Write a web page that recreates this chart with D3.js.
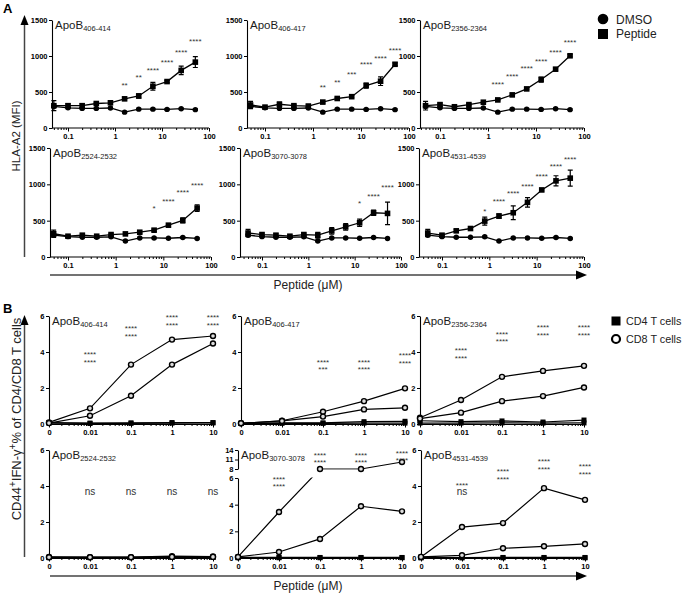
<!DOCTYPE html>
<html>
<head>
<meta charset="utf-8">
<script src="https://cdn.jsdelivr.net/npm/d3@7"></script>
<style>
  body { margin: 0; background: #fff; }
  svg { font-family: "Liberation Sans", Arial, sans-serif; }
</style>
</head>
<body>
<svg id="fig" width="685" height="593"></svg>
<script>
// ---- panel A data: HLA-A2 MFI vs peptide concentration ----
const concA = [0.05, 0.1, 0.2, 0.4, 0.8, 1.6, 3.2, 6.4, 12.8, 25.6, 51.2];
const titles = ["406-414", "406-417", "2356-2364", "2524-2532", "3070-3078", "4531-4539"];
const dmso = [300, 280, 272, 272, 278, 220, 262, 262, 258, 268, 255];
const dmsoErr = [15, 10, 10, 10, 10, 10, 10, 10, 10, 10, 10];
const peptideA = [
  [310, 310, 310, 340, 350, 405, 445, 580, 645, 800, 915],
  [320, 290, 330, 310, 305, 360, 410, 435, 590, 650, 885],
  [310, 325, 295, 325, 358, 390, 460, 543, 673, 817, 1003],
  [320, 286, 300, 286, 309, 318, 341, 369, 438, 503, 674],
  [330, 309, 300, 286, 309, 300, 360, 415, 471, 609, 600],
  [330, 300, 360, 392, 494, 563, 609, 752, 923, 1048, 1085]
];
const peptideErrA = [
  [70, 25, 25, 15, 10, 10, 30, 55, 15, 60, 75],
  [50, 15, 30, 15, 15, 15, 15, 15, 35, 60, 20],
  [60, 20, 15, 15, 10, 10, 10, 10, 35, 15, 15],
  [50, 15, 15, 10, 10, 10, 15, 15, 15, 35, 45],
  [50, 20, 20, 15, 20, 40, 45, 45, 50, 35, 155],
  [50, 20, 15, 25, 55, 30, 95, 65, 15, 70, 110]
];
// [index, label, MFI height]
const starsA = [
  [[5, "**", 618], [6, "**", 734], [7, "****", 827], [8, "****", 943], [9, "****", 1082], [10, "****", 1231]],
  [[5, "**", 594], [6, "**", 664], [7, "***", 766], [8, "****", 906], [9, "****", 999], [10, "****", 1101]],
  [[5, "****", 627], [6, "****", 748], [7, "****", 850], [8, "****", 952], [9, "****", 1082], [10, "****", 1212]],
  [[7, "*", 701], [8, "****", 785], [9, "****", 914], [10, "****", 1015]],
  [[8, "*", 761], [9, "****", 863], [10, "****", 978]],
  [[4, "*", 660], [5, "****", 785], [6, "****", 900], [7, "****", 1001], [8, "****", 1140], [9, "****", 1278], [10, "****", 1370]]
];
const ticksAY = [0, 500, 1000, 1500];
const ticksAX = [0.1, 1, 10, 100];

// ---- panel B data: CD44+IFN-g+ % ----
const concB = [0, 0.01, 0.1, 1, 10];
const cd8a = [
  [0.09, 0.87, 3.30, 4.69, 4.89],
  [0.04, 0.18, 0.68, 1.27, 1.98],
  [0.35, 1.33, 2.62, 2.95, 3.23],
  [0.06, 0.05, 0.05, 0.10, 0.08],
  [0.08, 3.45, 8.0, 8.0, 10.2],
  [0.06, 1.72, 1.94, 3.88, 3.23]
];
const cd8b = [
  [0.05, 0.46, 1.57, 3.30, 4.47],
  [0.04, 0.17, 0.41, 0.81, 0.90],
  [0.30, 0.63, 1.27, 1.55, 2.03],
  [0.04, 0.04, 0.04, 0.06, 0.06],
  [0.08, 0.45, 1.43, 3.88, 3.50],
  [0.06, 0.15, 0.54, 0.65, 0.78]
];
const cd4a = [
  [0.08, 0.05, 0.06, 0.08, 0.08],
  [0.04, 0.07, 0.06, 0.13, 0.15],
  [0.18, 0.13, 0.17, 0.11, 0.22],
  [0.03, 0.03, 0.03, 0.04, 0.04],
  [0.04, 0.04, 0.04, 0.04, 0.04],
  [0.02, 0.02, 0.03, 0.03, 0.03]
];
const cd4b = [
  [0.05, 0.03, 0.04, 0.05, 0.06],
  [0.03, 0.04, 0.04, 0.05, 0.05],
  [0.05, 0.05, 0.06, 0.05, 0.06],
  [0.02, 0.02, 0.02, 0.03, 0.03],
  [0.02, 0.02, 0.02, 0.02, 0.02],
  [0.01, 0.01, 0.01, 0.01, 0.01]
];
// [index, upper label, lower label, upper value, lower value]
const starsB = [
  [[1, "****", "****", 3.97, 3.54], [2, "****", "****", 5.39, 4.97], [3, "****", "****", 6.04, 5.61], [4, "****", "****", 6.04, 5.61]],
  [[2, "****", "***", 3.54, 3.12], [3, "****", "****", 3.54, 3.12], [4, "****", "****", 3.91, 3.49]],
  [[1, "****", "****", 4.19, 3.77], [2, "****", "****", 5.11, 4.71], [3, "****", "****", 5.48, 5.02], [4, "****", "****", 5.48, 5.02]],
  [[1, "ns", null, 3.66, null], [2, "ns", null, 3.66, null], [3, "ns", null, 3.66, null], [4, "ns", null, 3.66, null]],
  [[1, "****", "****", 6.1, 5.55], [2, "****", "****", 12.9, 10.7], [3, "****", "****", 12.9, 10.7], [4, "****", "****", 13.6, 11.4]],
  [[1, "****", "ns", 4.12, 3.69], [2, "****", "****", 4.89, 4.47], [3, "****", "****", 5.45, 5.04], [4, "****", "****", 5.17, 4.76]]
];
const ticksBY = [0, 2, 4, 6];
const ticksBYBreak = [8, 11, 14];
const ticksBX = [0, 0.01, 0.1, 1, 10];

// ---- layout ----
const layoutA = [
  { left: 52, x01: 68, x100: 209, top: 20, bottom: 128 },
  { left: 247, x01: 265, x100: 409, top: 20, bottom: 128 },
  { left: 420, x01: 440, x100: 584, top: 20, bottom: 128 },
  { left: 50, x01: 68, x100: 211, top: 148, bottom: 257 },
  { left: 240, x01: 262, x100: 401, top: 148, bottom: 257 },
  { left: 419, x01: 442, x100: 584, top: 148, bottom: 257 }
];
const layoutB = [
  { left: 49, top: 316, bottom: 424 },
  { left: 241, top: 316, bottom: 424 },
  { left: 420, top: 316, bottom: 424 },
  { left: 49, top: 450, bottom: 558 },
  { left: 238, top: 450, bottom: 558, brk: true },
  { left: 421, top: 450, bottom: 558 }
];

const svg = d3.select("#fig");
const plain = d => String(d);

function styleAxis(g) {
  g.select(".domain").attr("stroke", "#000").attr("stroke-width", 1.1);
  g.selectAll(".tick line").attr("stroke", "#000").attr("stroke-width", 1);
  g.selectAll(".tick text").attr("font-size", 7.5).attr("font-weight", "bold")
    .attr("fill", "#000").attr("font-family", "Liberation Sans, Arial, sans-serif");
}

function minorTicks(lo, hi) {
  let out = [];
  for (let e = -4; e <= 2; e++) {
    for (let m = 2; m <= 9; m++) {
      let v = m * Math.pow(10, e);
      if (v > lo && v < hi) out.push(v);
    }
  }
  return out;
}

function title(g, x, y, sub) {
  let t = g.append("text").attr("x", x).attr("y", y).attr("font-size", 11.5).attr("fill", "#1a1a1a");
  t.append("tspan").text("ApoB");
  t.append("tspan").attr("font-size", 7.5).attr("dy", 1.5).text(sub);
}

// ---- panel A plots ----
layoutA.forEach((L, i) => {
  let x = d3.scaleLog().domain([0.1, 100]).range([L.x01, L.x100]);
  let y = d3.scaleLinear().domain([0, 1500]).range([L.bottom, L.top]);
  let lo = x.invert(L.left);
  let g = svg.append("g");

  g.append("g").attr("transform", `translate(0,${L.bottom})`)
    .call(d3.axisBottom(x).tickValues(minorTicks(lo, 100)).tickSize(2).tickFormat(""))
    .call(a => a.select(".domain").remove())
    .call(styleAxis);
  g.append("g").attr("transform", `translate(0,${L.bottom})`)
    .call(d3.axisBottom(x).tickValues(ticksAX).tickSize(3.5).tickSizeOuter(0).tickPadding(2).tickFormat(plain))
    .call(a => a.select(".domain").attr("d", `M${L.left},0H${x(100)}`))
    .call(styleAxis);
  g.append("g").attr("transform", `translate(${L.left},0)`)
    .call(d3.axisLeft(y).tickValues(ticksAY).tickSize(3).tickSizeOuter(0).tickPadding(1.5).tickFormat(plain))
    .call(styleAxis);

  title(g, L.left + 3, L.top + 9, titles[i]);

  let line = d3.line().x((d, k) => x(concA[k])).y(d => y(d));
  [dmso, peptideA[i]].forEach(s => {
    g.append("path").datum(s).attr("d", line).attr("fill", "none").attr("stroke", "#000").attr("stroke-width", 1.3);
  });

  // error bars
  [[peptideA[i], peptideErrA[i]], [dmso, dmsoErr]].forEach(([m, e]) => {
    m.forEach((v, k) => {
      let cx = x(concA[k]);
      g.append("path")
        .attr("d", `M${cx},${y(v - e[k])}V${y(v + e[k])}M${cx - 2.5},${y(v - e[k])}h5M${cx - 2.5},${y(v + e[k])}h5`)
        .attr("stroke", "#000").attr("stroke-width", 1.2).attr("fill", "none");
    });
  });

  g.selectAll(".dm").data(dmso).enter().append("circle")
    .attr("cx", (d, k) => x(concA[k])).attr("cy", d => y(d)).attr("r", 2.7).attr("fill", "#000");
  g.selectAll(".pp").data(peptideA[i]).enter().append("rect")
    .attr("x", (d, k) => x(concA[k]) - 2.8).attr("y", d => y(d) - 2.8)
    .attr("width", 5.6).attr("height", 5.6).attr("fill", "#000");

  g.selectAll(".st").data(starsA[i]).enter().append("text")
    .attr("x", d => x(concA[d[0]])).attr("y", d => y(d[2]) + 4.5)
    .attr("text-anchor", "middle").attr("font-size", 8).attr("fill", "#333")
    .text(d => d[1]);
});

// ---- panel B plots ----
layoutB.forEach((L, i) => {
  let x = d3.scaleLog().domain([0.001, 10]).range([L.left, L.left + 164]);
  let xv = c => x(c === 0 ? 0.001 : c);
  let y = L.brk
    ? d3.scaleLinear().domain([0, 6, 8, 14]).range([L.bottom, L.bottom - 80, L.bottom - 89, L.top])
    : d3.scaleLinear().domain([0, 6]).range([L.bottom, L.top]);
  let g = svg.append("g");

  g.append("g").attr("transform", `translate(0,${L.bottom})`)
    .call(d3.axisBottom(x).tickValues(minorTicks(0.001, 10)).tickSize(2).tickFormat(""))
    .call(a => a.select(".domain").remove())
    .call(styleAxis);
  g.append("g").attr("transform", `translate(0,${L.bottom})`)
    .call(d3.axisBottom(x).tickValues(ticksBX.map(c => c === 0 ? 0.001 : c)).tickSize(3.5).tickSizeOuter(0).tickPadding(2)
      .tickFormat((d, k) => plain(ticksBX[k])))
    .call(styleAxis);

  if (L.brk) {
    let yLo = d3.scaleLinear().domain([0, 6]).range([L.bottom, L.bottom - 80]);
    let yHi = d3.scaleLinear().domain([8, 14]).range([L.bottom - 89, L.top]);
    g.append("g").attr("transform", `translate(${L.left},0)`)
      .call(d3.axisLeft(yLo).tickValues(ticksBY).tickSize(3).tickSizeOuter(0).tickPadding(1.5).tickFormat(plain)).call(styleAxis);
    g.append("g").attr("transform", `translate(${L.left},0)`)
      .call(d3.axisLeft(yHi).tickValues(ticksBYBreak).tickSize(3).tickSizeOuter(0).tickPadding(1.5).tickFormat(plain)).call(styleAxis);
  } else {
    g.append("g").attr("transform", `translate(${L.left},0)`)
      .call(d3.axisLeft(y).tickValues(ticksBY).tickSize(3).tickSizeOuter(0).tickPadding(1.5).tickFormat(plain)).call(styleAxis);
  }

  title(g, L.left + 3, L.top + 9, titles[i]);

  let line = d3.line().x((d, k) => xv(concB[k])).y(d => y(d));
  let lines = g.append("g");
  if (L.brk) {
    let cid = "clipB" + i;
    let cp = svg.append("clipPath").attr("id", cid);
    cp.append("rect").attr("x", L.left - 10).attr("y", L.top - 10).attr("width", 200).attr("height", y(8) + 0.8 - L.top + 10);
    cp.append("rect").attr("x", L.left - 10).attr("y", y(6) - 0.5).attr("width", 200).attr("height", L.bottom - y(6) + 10);
    lines.attr("clip-path", `url(#${cid})`);
  }
  [cd4a[i], cd4b[i], cd8a[i], cd8b[i]].forEach(s => {
    lines.append("path").datum(s).attr("d", line).attr("fill", "none").attr("stroke", "#000").attr("stroke-width", 1.2);
  });

  [cd4a[i], cd4b[i]].forEach(s => {
    g.selectAll(null).data(s).enter().append("rect")
      .attr("x", (d, k) => xv(concB[k]) - 2.5).attr("y", d => y(d) - 2.5)
      .attr("width", 5).attr("height", 5).attr("fill", "#000");
  });
  [cd8a[i], cd8b[i]].forEach(s => {
    g.selectAll(null).data(s).enter().append("circle")
      .attr("cx", (d, k) => xv(concB[k])).attr("cy", d => y(d)).attr("r", 2.5)
      .attr("fill", "#ddd").attr("stroke", "#000").attr("stroke-width", 1.4);
  });

  starsB[i].forEach(s => {
    [[s[1], s[3]], [s[2], s[4]]].forEach(([lab, v]) => {
      if (!lab) return;
      let ns = lab === "ns";
      g.append("text").attr("x", xv(concB[s[0]])).attr("y", y(v) + (ns ? 3 : 4.5))
        .attr("text-anchor", "middle").attr("font-size", ns ? 10 : 8).attr("fill", "#333").text(lab);
    });
  });
});

// ---- frame arrows, labels, legends ----
function arrowV(x, y1, y2) {
  svg.append("line").attr("x1", x).attr("x2", x).attr("y1", y1).attr("y2", y2 + 8)
    .attr("stroke", "#444").attr("stroke-width", 1.5);
  svg.append("path").attr("d", `M${x},${y2}L${x - 4},${y2 + 10}L${x + 4},${y2 + 10}Z`).attr("fill", "#000");
}
function arrowH(y, x1, x2) {
  svg.append("line").attr("x1", x1).attr("x2", x2 - 8).attr("y1", y).attr("y2", y)
    .attr("stroke", "#444").attr("stroke-width", 1.5);
  svg.append("path").attr("d", `M${x2},${y}L${x2 - 11},${y - 4.5}L${x2 - 11},${y + 4.5}Z`).attr("fill", "#000");
}
arrowV(24.5, 257, 15);
arrowH(275, 50, 587);
arrowV(24.5, 557, 315);
arrowH(576, 50, 587);

svg.append("text").attr("x", 3).attr("y", 13).attr("font-size", 13).attr("font-weight", "bold").text("A");
svg.append("text").attr("x", 3).attr("y", 313).attr("font-size", 13).attr("font-weight", "bold").text("B");

svg.append("text").attr("transform", "translate(20,136) rotate(-90)").attr("text-anchor", "middle")
  .attr("font-size", 11.5).attr("fill", "#222").text("HLA-A2 (MFI)");
let yl = svg.append("text").attr("transform", "translate(21,419) rotate(-90)").attr("text-anchor", "middle")
  .attr("font-size", 13).attr("fill", "#222");
yl.append("tspan").text("CD44");
yl.append("tspan").attr("dy", -5).attr("font-size", 10).text("+");
yl.append("tspan").attr("dy", 5).text("IFN-γ");
yl.append("tspan").attr("dy", -5).attr("font-size", 10).text("+");
yl.append("tspan").attr("dy", 5).text("% of CD4/CD8 T cells");

svg.append("text").attr("x", 308).attr("y", 289).attr("text-anchor", "middle").attr("font-size", 12).attr("fill", "#222").text("Peptide (μM)");
svg.append("text").attr("x", 308).attr("y", 590).attr("text-anchor", "middle").attr("font-size", 12).attr("fill", "#222").text("Peptide (μM)");

// legend A
svg.append("circle").attr("cx", 603).attr("cy", 19).attr("r", 5.3).attr("fill", "#000");
svg.append("rect").attr("x", 598).attr("y", 29).attr("width", 10).attr("height", 10).attr("fill", "#000");
svg.append("text").attr("x", 616).attr("y", 24).attr("font-size", 12).attr("fill", "#222").text("DMSO");
svg.append("text").attr("x", 616).attr("y", 38).attr("font-size", 12).attr("fill", "#222").text("Peptide");
// legend B
svg.append("rect").attr("x", 611.5).attr("y", 316.5).attr("width", 9).attr("height", 9).attr("fill", "#000");
svg.append("circle").attr("cx", 616).attr("cy", 339).attr("r", 4).attr("fill", "#fff").attr("stroke", "#000").attr("stroke-width", 2.2);
svg.append("text").attr("x", 626).attr("y", 325).attr("font-size", 10.8).attr("fill", "#222").text("CD4 T cells");
svg.append("text").attr("x", 626).attr("y", 343).attr("font-size", 10.8).attr("fill", "#222").text("CD8 T cells");
</script>
</body>
</html>
